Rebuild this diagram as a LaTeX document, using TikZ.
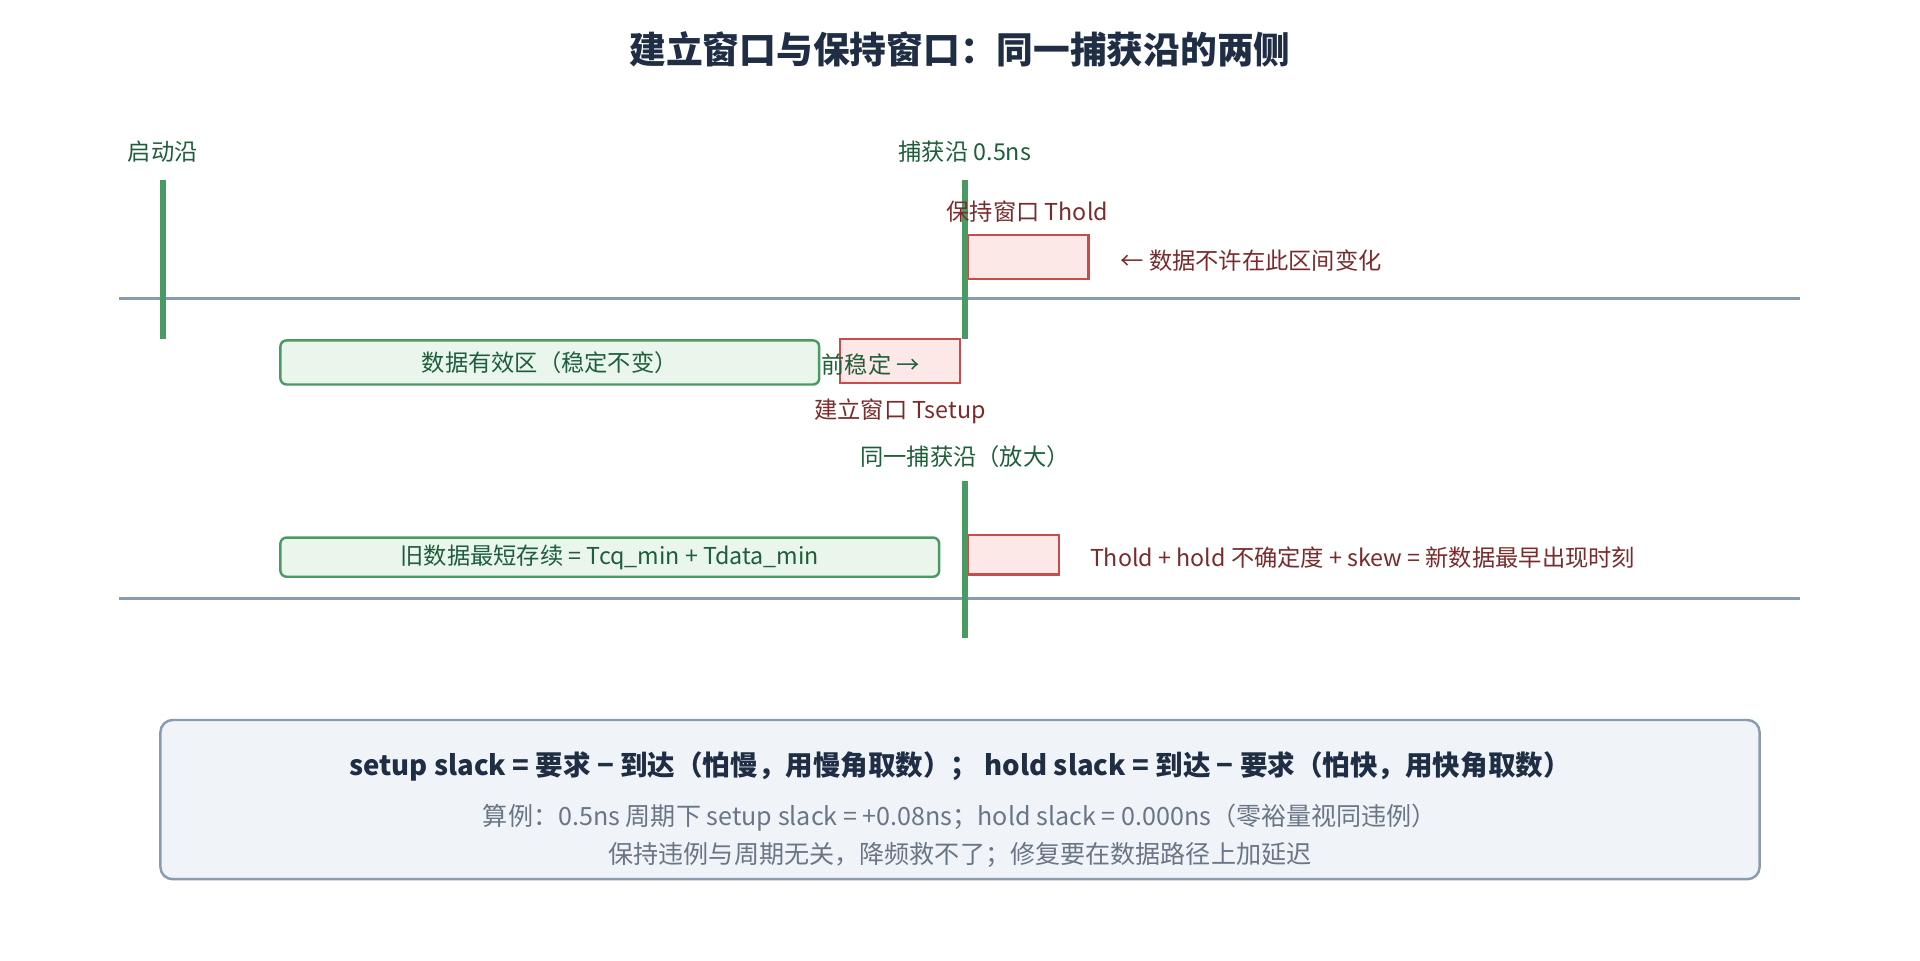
\documentclass[tikz,border=0pt]{standalone}
\usepackage{fontspec}
\setmainfont{Noto Sans CJK SC}
\begin{document}
\definecolor{gline}{HTML}{4A9A64}
\definecolor{gtext}{HTML}{1E5E3A}
\definecolor{rtext}{HTML}{7A2B2B}
\definecolor{rline}{HTML}{C84C4C}
\definecolor{rfill}{HTML}{FDE8E8}
\definecolor{gfill}{HTML}{EAF6EC}
\definecolor{axis}{HTML}{8A9BB0}
\definecolor{navy}{HTML}{1F2D45}
\definecolor{note}{HTML}{6A7585}
\definecolor{sumfill}{HTML}{F0F4F8}
\begin{tikzpicture}[x=1pt,y=-1pt,
  lbl/.style={inner sep=0pt,font=\fontsize{19}{22}\selectfont},
  gl/.style={lbl,text=gtext},
  rl/.style={lbl,text=rtext},
  edge/.style={gline,line width=5pt},
  ax/.style={axis,line width=2.5pt},
  rbox/.style={draw=rline,fill=rfill,line width=2pt},
  gbox/.style={draw=gline,fill=gfill,line width=2pt,rounded corners=5pt}]
\fill[white] (0,0) rectangle (1568,784);
\node[font=\fontsize{30}{34}\selectfont\bfseries,text=navy] (title) at (784,40) {建立窗口与保持窗口：同一捕获沿的两侧};
% axes
\coordinate (a1l) at (97,244); \coordinate (a1r) at (1470,244);
\coordinate (a2l) at (97,489); \coordinate (a2r) at (1470,489);
\draw[ax] (a1l) -- (a1r);
\draw[ax] (a2l) -- (a2r);
% boxes
\node[rbox,minimum width=99pt,minimum height=36pt] (hold) at (839.5,210) {};
\node[gbox,minimum width=440pt,minimum height=36pt,gl] (valid) at (449,296) {数据有效区（稳定不变）};
\node[rbox,minimum width=98pt,minimum height=36pt] (setup) at (735,295) {};
\node[gl] (pre) at (711,298) {前稳定 →};
\node[gbox,minimum width=538pt,minimum height=32pt,gl] (old) at (498,455) {旧数据最短存续 = Tcq\_min + Tdata\_min};
\node[rbox,minimum width=75pt,minimum height=32pt] (hold2) at (827.5,453) {};
% edges
\coordinate (l1t) at (133,147); \coordinate (l1b) at (133,277);
\coordinate (c1t) at (788,147); \coordinate (c1b) at (788,277);
\coordinate (c2t) at (788,393); \coordinate (c2b) at (788,521);
\draw[edge] (l1t) -- (l1b);
\draw[edge] (c1t) -- (c1b);
\draw[edge] (c2t) -- (c2b);
% labels
\node[gl] (launch) at (133,124) {启动沿};
\node[gl] (cap) at (788,124) {捕获沿 0.5ns};
\node[rl] (holdl) at (839,173) {保持窗口 Thold};
\node[rl,anchor=west] (nochg) at (915,213) {← 数据不许在此区间变化};
\node[rl] (setupl) at (735,336) {建立窗口 Tsetup};
\node[gl] (zoomc) at (788,373) {同一捕获沿（放大）};
\node[rl,anchor=west] (earliest) at (890,455) {Thold + hold 不确定度 + skew = 新数据最早出现时刻};
% bottom
\node[draw=axis,fill=sumfill,line width=2pt,rounded corners=10pt,minimum width=1306pt,minimum height=130pt] (sum) at (784,653) {};
\node[lbl,font=\fontsize{22.5}{26}\selectfont\bfseries,text=navy] (s1) at (784,626) {setup slack = 要求 − 到达（怕慢，用慢角取数）； hold slack = 到达 − 要求（怕快，用快角取数）};
\node[lbl,font=\fontsize{20.5}{24}\selectfont,text=note] (s2) at (784,668) {算例：0.5ns 周期下 setup slack = +0.08ns；hold slack = 0.000ns（零裕量视同违例）};
\node[lbl,font=\fontsize{20.5}{24}\selectfont,text=note] (s3) at (784,698) {保持违例与周期无关，降频救不了；修复要在数据路径上加延迟};
\end{tikzpicture}
\end{document}
